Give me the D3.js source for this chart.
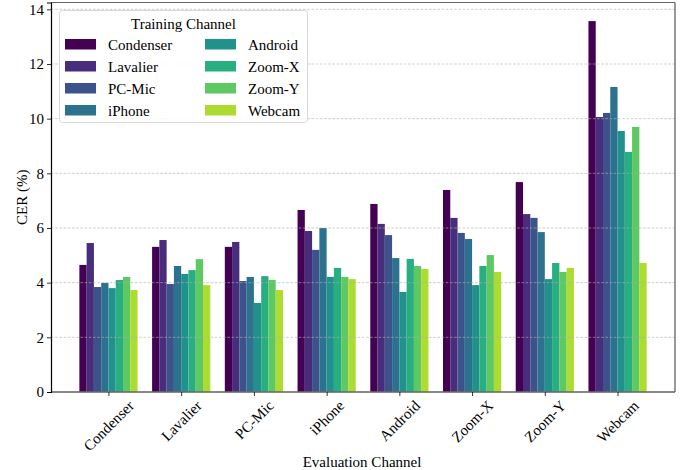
<!DOCTYPE html>
<html>
<head>
<meta charset="utf-8">
<script src="https://cdn.jsdelivr.net/npm/d3@7"></script>
<style>
  html, body { margin: 0; padding: 0; background: #fff; }
  svg text { font-family: "Liberation Serif", "Times New Roman", serif; fill: #000; }
</style>
</head>
<body>
<svg id="chart" width="686" height="470"></svg>
<script>
// Evaluation channels (x groups) and training channels (series)
const evalChannels = ["Condenser", "Lavalier", "PC-Mic", "iPhone", "Android", "Zoom-X", "Zoom-Y", "Webcam"];
const trainChannels = ["Condenser", "Lavalier", "PC-Mic", "iPhone", "Android", "Zoom-X", "Zoom-Y", "Webcam"];

// CER (%) per training channel, listed over the evaluation channels
const cerCondenser = [4.65, 5.31, 5.31, 6.66, 6.88, 7.39, 7.68, 13.57];
const cerLavalier  = [5.45, 5.56, 5.49, 5.89, 6.15, 6.37, 6.51, 10.06];
const cerPCMic     = [3.84, 3.95, 4.06, 5.20, 5.74, 5.82, 6.37, 10.21];
const cerIPhone    = [3.99, 4.61, 4.21, 6.00, 4.90, 5.60, 5.85, 11.16];
const cerAndroid   = [3.80, 4.32, 3.26, 4.21, 3.66, 3.91, 4.13, 9.55];
const cerZoomX     = [4.10, 4.46, 4.24, 4.54, 4.87, 4.61, 4.72, 8.78];
const cerZoomY     = [4.21, 4.86, 4.10, 4.21, 4.61, 5.01, 4.39, 9.70];
const cerWebcam    = [3.73, 3.91, 3.73, 4.13, 4.50, 4.39, 4.54, 4.72];
const seriesValues = [cerCondenser, cerLavalier, cerPCMic, cerIPhone, cerAndroid, cerZoomX, cerZoomY, cerWebcam];

const yTicks = [0, 2, 4, 6, 8, 10, 12, 14];

const svg = d3.select("#chart");
const plotLeft = 51, plotRight = 675, plotTop = 2.5, plotBottom = 392;
const barWidth = 0.1;

const x = d3.scaleLinear().domain([-0.79, 7.79]).range([plotLeft, plotRight]);
const y = d3.scaleLinear().domain([0, 14.25]).range([plotBottom, plotTop]);
const color = i => d3.interpolateViridis(i / trainChannels.length);

// Bars
const bars = svg.append("g");
seriesValues.forEach((vals, j) => {
  bars.selectAll(null)
    .data(vals)
    .join("rect")
    .attr("x", (d, i) => x(i + (j - 3.5) * barWidth - barWidth / 2))
    .attr("width", x(barWidth) - x(0))
    .attr("y", d => y(d))
    .attr("height", d => y(0) - y(d))
    .attr("fill", color(j));
});

// Horizontal dashed grid, drawn above the bars
svg.append("g")
  .selectAll("line")
  .data(yTicks)
  .join("line")
  .attr("x1", plotLeft).attr("x2", plotRight)
  .attr("y1", d => y(d)).attr("y2", d => y(d))
  .attr("stroke", "#b0b0b0")
  .attr("stroke-opacity", 0.7)
  .attr("stroke-width", 0.9)
  .attr("stroke-dasharray", "2.6,1.6");

// Frame
svg.append("line").attr("x1", plotLeft).attr("x2", plotRight).attr("y1", plotTop).attr("y2", plotTop)
  .attr("stroke", "#666").attr("stroke-width", 1.2);
svg.append("line").attr("x1", plotRight).attr("x2", plotRight).attr("y1", plotTop).attr("y2", plotBottom)
  .attr("stroke", "#555").attr("stroke-width", 1.2);
svg.append("line").attr("x1", plotLeft).attr("x2", plotRight).attr("y1", plotBottom).attr("y2", plotBottom)
  .attr("stroke", "#666").attr("stroke-width", 1.6);

// Y axis
const yAxis = svg.append("g")
  .attr("transform", `translate(${plotLeft},0)`)
  .call(d3.axisLeft(y).tickValues(yTicks).tickSize(4).tickPadding(3).tickFormat(d3.format("d")));
yAxis.select(".domain").attr("stroke", "#000").attr("stroke-width", 1.2);
yAxis.selectAll(".tick line").attr("stroke", "#000").attr("stroke-width", 0.8);
yAxis.selectAll(".tick text").attr("font-size", 15).attr("font-family", "Liberation Serif");

// X axis: labels rotated 45°, the rotated box centred under each tick
const xAxis = svg.append("g")
  .attr("transform", `translate(0,${plotBottom})`)
  .call(d3.axisBottom(x).tickValues(d3.range(evalChannels.length)).tickSize(4)
    .tickFormat(i => evalChannels[i]));
xAxis.select(".domain").remove();
xAxis.selectAll(".tick line").attr("stroke", "#000").attr("stroke-width", 0.8);
xAxis.selectAll(".tick text")
  .attr("font-size", 15)
  .attr("font-family", "Liberation Serif")
  .attr("text-anchor", "middle")
  .attr("y", 0)
  .attr("dy", "0.32em")
  .each(function () {
    const w = this.getComputedTextLength();
    const half = (w + 12) * Math.SQRT1_2 / 2;
    d3.select(this).attr("transform", `translate(0,${7 + half}) rotate(-45)`);
  });

// Axis titles
svg.append("text")
  .attr("x", 362).attr("y", 467)
  .attr("text-anchor", "middle")
  .attr("font-size", 15)
  .text("Evaluation Channel");
svg.append("text")
  .attr("transform", `translate(27,${(plotTop + plotBottom) / 2}) rotate(-90)`)
  .attr("text-anchor", "middle")
  .attr("font-size", 15)
  .text("CER (%)");

// Legend
const legend = svg.append("g");
legend.append("rect")
  .attr("x", 59.5).attr("y", 10.5).attr("width", 248).attr("height", 112).attr("rx", 3)
  .attr("fill", "#fff").attr("fill-opacity", 0.85)
  .attr("stroke", "#d8d8d8").attr("stroke-width", 1);
legend.append("text")
  .attr("x", 183.5).attr("y", 29)
  .attr("text-anchor", "middle")
  .attr("font-size", 15)
  .text("Training Channel");
trainChannels.forEach((name, j) => {
  const col = Math.floor(j / 4), row = j % 4;
  const gx = 65 + col * 140, gy = 39 + row * 22;
  legend.append("rect")
    .attr("x", gx).attr("y", gy).attr("width", 31).attr("height", 10.5)
    .attr("fill", color(j));
  legend.append("text")
    .attr("x", gx + 43).attr("y", gy + 10.5)
    .attr("font-size", 15)
    .text(name);
});
</script>
</body>
</html>
